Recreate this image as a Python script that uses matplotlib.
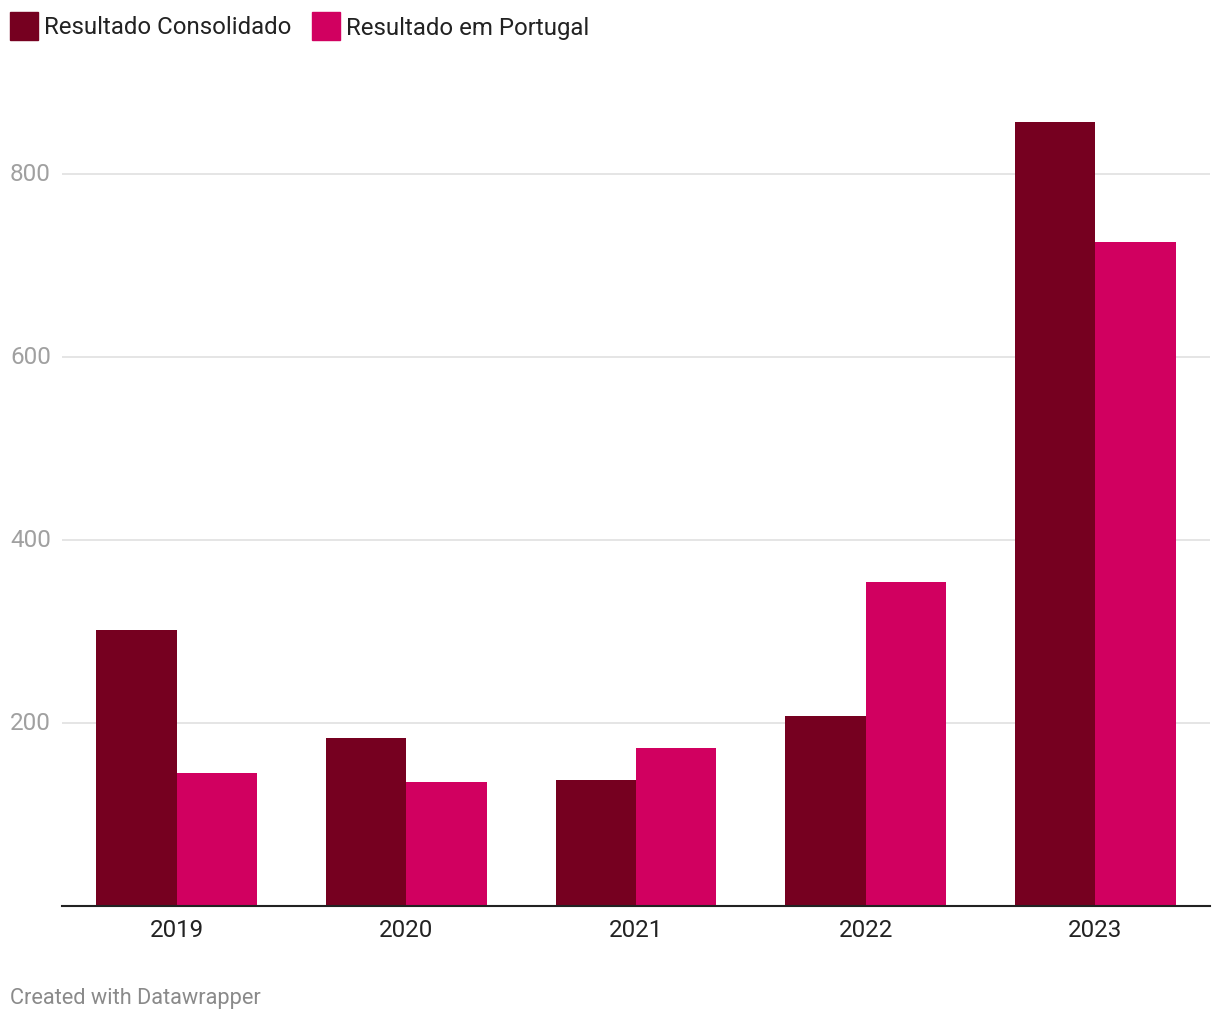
import matplotlib
matplotlib.use("Agg")
import matplotlib.pyplot as plt
from matplotlib.patches import Rectangle
import matplotlib.transforms as mtransforms
import numpy as np

plt.rcParams['font.family'] = ['Roboto', 'DejaVu Sans']

years = ["2019", "2020", "2021", "2022", "2023"]
consolidado = [302, 184, 138, 208, 857]
portugal = [145, 135, 173, 354, 726]
series_names = ["Resultado Consolidado", "Resultado em Portugal"]
colors = ["#760020", "#d10060"]
yticks = [200, 400, 600, 800]

W, H = 1220, 1020
fig = plt.figure(figsize=(W / 100, H / 100), dpi=100)
ax = fig.add_axes([62 / W, (H - 907) / H, (1210 - 62) / W, (907 - 83.5) / H])

x = np.arange(len(years))
bw = 0.35
ax.bar(x - bw / 2, consolidado, width=bw, color=colors[0], zorder=3)
ax.bar(x + bw / 2, portugal, width=bw, color=colors[1], zorder=3)

ax.set_xlim(-0.5, len(years) - 0.5)
ax.set_ylim(0, 900)
for s in ["top", "right", "left"]:
    ax.spines[s].set_visible(False)
ax.spines["bottom"].set_color("#222222")
ax.spines["bottom"].set_linewidth(1.5)
ax.spines["bottom"].set_zorder(4)

for t in yticks:
    ax.axhline(t, color="#e3e3e3", lw=1.3, zorder=1)
ax.set_yticks([])
trans = mtransforms.blended_transform_factory(fig.transFigure, ax.transData)
for t in yticks:
    ax.text(10 / W, t, str(t), transform=trans, ha="left", va="center",
            fontsize=17.5, color="#a0a0a0")

ax.set_xticks(x)
ax.set_xticklabels(years, fontsize=17.4, color="#222222")
ax.tick_params(axis="x", length=0, pad=9)

# legend
lx = [10, 312]
for i, name in enumerate(series_names):
    fig.patches.append(Rectangle((lx[i] / W, (H - 41) / H), 28 / W, 28 / H,
                                 transform=fig.transFigure, color=colors[i]))
    fig.text((lx[i] + 34) / W, (H - 28) / H, name, ha="left", va="center",
             fontsize=17.3, color="#222222")

fig.text(10 / W, (H - 999) / H, "Created with Datawrapper", ha="left", va="center",
         fontsize=15.7, color="#8a8a8a")

fig.savefig("out.png", dpi=100, facecolor="white")
